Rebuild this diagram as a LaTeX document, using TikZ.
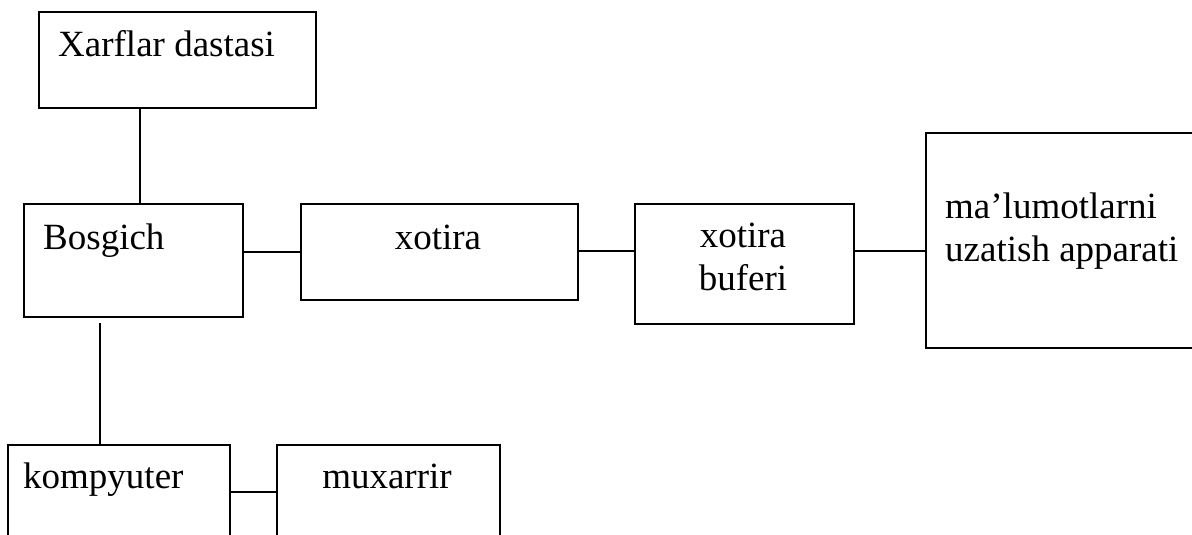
\documentclass[tikz,border=0pt]{standalone}
\usepackage{fontspec}
\setmainfont{Liberation Serif}
\begin{document}
\begin{tikzpicture}[x=1pt,y=-1pt,
  box/.style={draw=black,line width=1.6pt,rectangle,anchor=north west,inner sep=0pt},
  lbl/.style={anchor=base west,inner sep=0pt,font=\fontsize{37}{43}\selectfont},
  clbl/.style={anchor=base,inner sep=0pt,align=center,font=\fontsize{37}{43}\selectfont},
  conn/.style={draw=black,line width=1.6pt}]
\useasboundingbox (0,0) rectangle (1192,535);
\clip (0,0) rectangle (1192,535);
% boxes
\node[box,minimum width=277,minimum height=96] (xar) at (38,11) {};
\node[box,minimum width=219,minimum height=113] (bos) at (23,203) {};
\node[box,minimum width=277,minimum height=96] (xot) at (300,203) {};
\node[box,minimum width=219,minimum height=120] (buf) at (634,203) {};
\node[box,minimum width=300,minimum height=215] (mal) at (925,132) {};
\node[box,minimum width=222,minimum height=130] (kom) at (7,444) {};
\node[box,minimum width=223,minimum height=130] (mux) at (276,444) {};
% labels
\node[lbl] (xarT) at (58,57) {Xarflar dastasi};
\node[lbl] (bosT) at (43,249) {Bosgich};
\node[clbl] (xotT) at (438,249) {xotira};
\node[clbl] (bufT1) at (743,247) {xotira};
\node[clbl] (bufT2) at (743,290) {buferi};
\node[lbl] (malT1) at (945,218) {ma’lumotlarni};
\node[lbl] (malT2) at (945,261) {uzatish apparati};
\node[lbl] (komT) at (23,488) {kompyuter};
\node[clbl] (muxT) at (387,488) {muxarrir};
% connectors
\coordinate (gap) at (100,323);
\draw[conn] (140,0 |- xar.south) -- (140,0 |- bos.north);
\draw[conn] (bos.east |- 0,252) -- (xot.west |- 0,252);
\draw[conn] (xot.east |- 0,251) -- (buf.west |- 0,251);
\draw[conn] (buf.east |- 0,251) -- (mal.west |- 0,251);
\draw[conn] (gap) -- (gap |- kom.north);
\draw[conn] (kom.east |- 0,492) -- (mux.west |- 0,492);
\end{tikzpicture}
\end{document}
